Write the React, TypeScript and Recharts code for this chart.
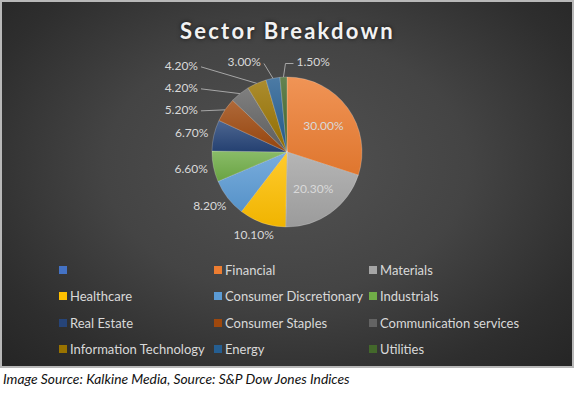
import React from 'react';
import { PieChart, Pie, Cell, Legend } from 'recharts';

// ---------- data ----------
const sectors = [
  'Financial',
  'Materials',
  'Healthcare',
  'Consumer Discretionary',
  'Industrials',
  'Real Estate',
  'Consumer Staples',
  'Communication services',
  'Information Technology',
  'Energy',
  'Utilities',
];
const weights = [30.0, 20.3, 10.1, 8.2, 6.6, 6.7, 5.2, 4.2, 4.2, 3.0, 1.5];
const sliceColors = [
  '#ED7D31', '#A5A5A5', '#FFC000', '#5B9BD5', '#70AD47', '#264478',
  '#9E480E', '#636363', '#997300', '#255E91', '#43682B',
];
const legendNames = ['', ...sectors];
const legendColors = ['#4472C4', ...sliceColors];
const titleText = 'Sector Breakdown';
const captionText = 'Image Source: Kalkine Media, Source: S&P Dow Jones Indices';

// ---------- layout / style ----------
const W = 576;
const H = 396;
const CX = 287;
const CY = 152;
const R = 75;
const LABEL_FONT = 12;
const LABEL_FAMILY = 'Lato, "Open Sans", sans-serif';
const LABEL_COLOR = '#D9D9D9';
const RAD = Math.PI / 180;

const chartData = sectors.map((name, i) => ({ name, value: weights[i] }));
const fmt = (v: number) => `${v.toFixed(2)}%`;

let measureCtx: CanvasRenderingContext2D | null = null;
function measure(text: string): number {
  try {
    if (!measureCtx) measureCtx = document.createElement('canvas').getContext('2d');
    if (measureCtx) {
      measureCtx.font = `${LABEL_FONT}px ${LABEL_FAMILY}`;
      return measureCtx.measureText(text).width;
    }
  } catch (e) {}
  return text.length * 6.2;
}

function shade(hex: string, amt: number) {
  const n = parseInt(hex.slice(1), 16);
  let r = (n >> 16) & 255, g = (n >> 8) & 255, b = n & 255;
  const f = (c: number) => Math.round(amt >= 0 ? c + (255 - c) * amt : c * (1 + amt));
  r = f(r); g = f(g); b = f(b);
  return `rgb(${r},${g},${b})`;
}

type Box = { x0: number; x1: number; y0: number; y1: number };
type LabelPos = { x: number; y: number; anchor: 'start' | 'middle' | 'end'; line?: number[][] };

function overlaps(a: Box, b: Box) {
  return a.x0 < b.x1 && b.x0 < a.x1 && a.y0 < b.y1 && b.y0 < a.y1;
}

function layoutLabels(): LabelPos[] {
  const total = weights.reduce((s, v) => s + v, 0);
  const out: LabelPos[] = [];
  const placed: Box[] = [];
  const h = 12;
  const colX = CX - R - 14;
  const topRowY = CY - R - 15.5;
  let lastColY = Infinity;
  let cum = 0;
  weights.forEach((v, i) => {
    const mid = 90 - ((cum + v / 2) / total) * 360;
    cum += v;
    const ux = Math.cos(mid * RAD);
    const uy = -Math.sin(mid * RAD);
    const text = fmt(v);
    const w = measure(text);
    const frac = v / total;
    if (frac >= 0.15) {
      out[i] = { x: CX + ux * R * 0.6, y: CY + uy * R * 0.6, anchor: 'middle' };
      return;
    }
    const ex = CX + ux * R;
    const ey = CY + uy * R;
    const leader = ux < 0 && uy < 0 && frac < 0.06;
    if (!leader) {
      const x = ex + ux * 6 + (ux * w) / 2;
      const y = ey + uy * 6 + (uy * h) / 2;
      out[i] = { x, y, anchor: 'middle' };
      placed.push({ x0: x - w / 2, x1: x + w / 2, y0: y - h / 2, y1: y + h / 2 });
      return;
    }
    const yCol = Math.min(ey, lastColY - 22);
    if (yCol >= topRowY) {
      lastColY = yCol;
      out[i] = { x: colX, y: yCol, anchor: 'end', line: [[ex, ey], [colX + 3, yCol + 1]] };
      placed.push({ x0: colX - w, x1: colX, y0: yCol - h / 2, y1: yCol + h / 2 });
      return;
    }
    const y = topRowY;
    const endX = ex - 12;
    const boxEnd = { x0: endX - w, x1: endX, y0: y - h / 2, y1: y + h / 2 };
    if (!placed.some((b) => overlaps(b, boxEnd))) {
      out[i] = { x: endX, y, anchor: 'end', line: [[ex, ey], [endX + 3, y + 2]] };
      placed.push(boxEnd);
    } else {
      const sx = ex + 13;
      out[i] = { x: sx, y, anchor: 'start', line: [[ex, ey], [ex + 2, y + 2], [sx - 3, y + 2]] };
      placed.push({ x0: sx, x1: sx + w, y0: y - h / 2, y1: y + h / 2 });
    }
  });
  return out;
}

const labelLayout = layoutLabels();

const renderLabel = (props: any) => {
  const { index, value } = props;
  const p = labelLayout[index];
  if (!p) return null;
  return (
    <g key={`lbl-${index}`}>
      {p.line && (
        <polyline
          points={p.line.map((q) => q.join(',')).join(' ')}
          fill="none"
          stroke="#A6A6A6"
          strokeWidth={1}
        />
      )}
      <text
        x={p.x}
        y={p.y}
        textAnchor={p.anchor}
        dominantBaseline="central"
        fill={LABEL_COLOR}
        fontSize={LABEL_FONT}
        fontFamily={LABEL_FAMILY}
      >
        {fmt(value)}
      </text>
    </g>
  );
};

const renderLegend = () => (
  <div
    style={{
      display: 'grid',
      gridTemplateColumns: '155px 155px 200px',
      gridAutoRows: '26.3px',
      paddingLeft: 59,
      fontFamily: LABEL_FAMILY,
      fontSize: 13,
      color: LABEL_COLOR,
    }}
  >
    {legendNames.map((n, i) => (
      <div key={i} style={{ display: 'flex', alignItems: 'center', whiteSpace: 'nowrap' }}>
        <span
          style={{
            display: 'inline-block',
            width: 8,
            height: 8,
            background: legendColors[i],
            marginRight: 3,
          }}
        />
        <span>{n}</span>
      </div>
    ))}
  </div>
);

export default function App() {
  return (
    <div
      style={{
        position: 'absolute',
        left: 0,
        top: 0,
        width: W,
        height: H,
        background: '#ffffff',
        overflow: 'hidden',
      }}
    >
      <svg width={0} height={0} style={{ position: 'absolute' }}>
        <defs>
          {sliceColors.map((c, i) => (
            <linearGradient key={i} id={`sg${i}`} x1="0" y1="0" x2="0" y2="1">
              <stop offset="0%" stopColor={shade(c, 0.18)} />
              <stop offset="100%" stopColor={shade(c, -0.06)} />
            </linearGradient>
          ))}
        </defs>
      </svg>
      <div
        style={{
          position: 'absolute',
          left: 0,
          top: 0,
          width: 570,
          height: 364,
          border: '2px solid #B8B8B8',
          background:
            'radial-gradient(ellipse at 50% 45%, #525252 0%, #444444 45%, #2E2E2E 80%, #252525 100%)',
        }}
      />
      <div
        style={{
          position: 'absolute',
          left: 0,
          top: 15,
          width: 575,
          textAlign: 'center',
          fontFamily: LABEL_FAMILY,
          fontWeight: 700,
          fontSize: 22,
          letterSpacing: 2.2,
          color: '#F2F2F2',
          textShadow: '0 0 4px rgba(0,0,0,0.7)',
          lineHeight: '32px',
        }}
      >
        {titleText}
      </div>
      <div style={{ position: 'absolute', left: 0, top: 0 }}>
        <PieChart width={W} height={H} margin={{ top: 0, right: 0, bottom: 0, left: 0 }}>
          <Pie
            data={chartData}
            dataKey="value"
            nameKey="name"
            cx={CX}
            cy={CY}
            outerRadius={R}
            startAngle={90}
            endAngle={-270}
            isAnimationActive={false}
            label={renderLabel}
            labelLine={false}
            stroke="rgba(255,255,255,0.35)"
            strokeWidth={0.6}
          >
            {chartData.map((d, i) => (
              <Cell key={d.name} fill={`url(#sg${i})`} />
            ))}
          </Pie>
          <Legend
            content={renderLegend}
            wrapperStyle={{ left: 0, top: 257, bottom: 'auto', width: W }}
          />
        </PieChart>
      </div>
      <div
        style={{
          position: 'absolute',
          left: 3,
          top: 370,
          fontFamily: LABEL_FAMILY,
          fontStyle: 'italic',
          fontSize: 13.8,
          color: '#111111',
          whiteSpace: 'nowrap',
        }}
      >
        {captionText}
      </div>
    </div>
  );
}
